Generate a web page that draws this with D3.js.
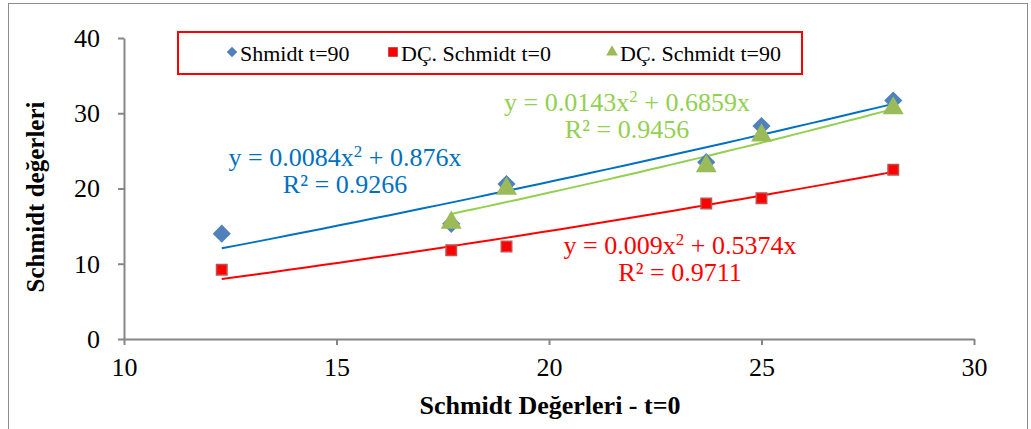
<!DOCTYPE html>
<html>
<head>
<meta charset="utf-8">
<script src="https://cdn.jsdelivr.net/npm/d3@7"></script>
<style>
  body { margin: 0; background: #fff; }
  svg { display: block; }
  svg text { font-family: "Liberation Serif", "Times New Roman", serif; }
</style>
</head>
<body>
<div id="chart"></div>
<script>
// values
var xValues = [12.3, 17.7, 19.0, 23.7, 25.0, 28.1];
var shmidt90 = [14.0, 15.3, 20.6, 23.5, 28.3, 31.7];
var dcSchmidt0 = [9.2, 11.8, 12.3, 18.0, 18.7, 22.5];
var dcXValues = [17.7, 19.0, 23.7, 25.0, 28.1];
var dcSchmidt90 = [15.2, 19.7, 22.7, 26.8, 30.4];

var xTicks = [10, 15, 20, 25, 30];
var yTicks = [0, 10, 20, 30, 40];

// trendline coefficients (y = a*x^2 + b*x) as printed on the chart
var trendShmidt90 = { a: 0.0084, b: 0.876, r2: "0.9266" };
var trendDc0 = { a: 0.009, b: 0.5374, r2: "0.9711" };
var trendDc90 = { a: 0.0143, b: 0.6859, r2: "0.9456" };

var legendNames = ["Shmidt t=90", "DÇ. Schmidt t=0", "DÇ. Schmidt t=90"];

window.onload = function() {
	drawChart();
};

function drawChart() {
	var width = 1031,
		height = 429;

	var svg = d3.select("#chart").append("svg")
		.attr("width", width)
		.attr("height", height);

	// outer chart frame
	svg.append("rect")
		.attr("x", 8.5).attr("y", 3.5)
		.attr("width", 1019).attr("height", 440)
		.attr("fill", "none")
		.attr("stroke", "#8c8c8c")
		.attr("stroke-width", 1);

	var x = d3.scaleLinear().domain([10, 30]).range([124, 974]);
	var y = d3.scaleLinear().domain([0, 40]).range([339, 38]);

	var axisColor = "#868686";

	var xAxis = svg.append("g")
		.attr("transform", "translate(0," + y(0) + ")")
		.call(d3.axisBottom(x).tickValues(xTicks).tickSize(6).tickPadding(13).tickSizeOuter(0));
	var yAxis = svg.append("g")
		.attr("transform", "translate(" + x(10) + ",0)")
		.call(d3.axisLeft(y).tickValues(yTicks).tickSize(6).tickPadding(18).tickSizeOuter(0));

	[xAxis, yAxis].forEach(function(g) {
		g.attr("font-family", "Liberation Serif").attr("font-size", 26);
		g.select(".domain").attr("stroke", axisColor).attr("stroke-width", 2);
		g.selectAll(".tick line").attr("stroke", axisColor).attr("stroke-width", 2);
		g.selectAll(".tick text").attr("fill", "#000");
	});

	// axis titles
	svg.append("text")
		.attr("x", 550).attr("y", 414)
		.attr("text-anchor", "middle")
		.style("font-weight", "bold")
		.style("font-size", "26px")
		.text("Schmidt Değerleri - t=0");

	svg.append("text")
		.attr("transform", "translate(44,197) rotate(-90)")
		.attr("text-anchor", "middle")
		.style("font-weight", "bold")
		.style("font-size", "25px")
		.text("Schmidt değerleri");

	// trendlines
	var line = d3.line()
		.x(function(d) { return x(d[0]); })
		.y(function(d) { return y(d[1]); });

	function trend(coef, xs, color) {
		var lo = d3.min(xs), hi = d3.max(xs);
		var pts = d3.range(0, 41).map(function(i) {
			var xv = lo + (hi - lo) * i / 40;
			return [xv, coef.a * xv * xv + coef.b * xv];
		});
		svg.append("path")
			.attr("d", line(pts))
			.attr("fill", "none")
			.attr("stroke", color)
			.attr("stroke-width", 2);
	}

	trend(trendShmidt90, xValues, "#0070C0");
	trend(trendDc0, xValues, "#FF0000");
	trend(trendDc90, dcXValues, "#92D050");

	// markers
	var diamond = d3.symbol().type(d3.symbolDiamond2).size(210);
	var square = d3.symbol().type(d3.symbolSquare).size(110);
	var triangle = d3.symbol().type(d3.symbolTriangle).size(190);

	svg.append("g").selectAll("path")
		.data(xValues.map(function(v, i) { return [v, shmidt90[i]]; }))
		.enter().append("path")
		.attr("d", diamond)
		.attr("transform", function(d) { return "translate(" + x(d[0]) + "," + y(d[1]) + ")"; })
		.attr("fill", "#4F81BD");

	svg.append("g").selectAll("path")
		.data(xValues.map(function(v, i) { return [v, dcSchmidt0[i]]; }))
		.enter().append("path")
		.attr("d", square)
		.attr("transform", function(d) { return "translate(" + x(d[0]) + "," + y(d[1]) + ")"; })
		.attr("fill", "#FF0000")
		.attr("stroke", "#C0504D")
		.attr("stroke-width", 1.5);

	svg.append("g").selectAll("path")
		.data(dcXValues.map(function(v, i) { return [v, dcSchmidt90[i]]; }))
		.enter().append("path")
		.attr("d", triangle)
		.attr("transform", function(d) { return "translate(" + x(d[0]) + "," + (y(d[1]) - 2) + ")"; })
		.attr("fill", "#9BBB59");

	// equations
	function equation(coef, cx, cy, color) {
		var t = svg.append("text")
			.attr("x", cx).attr("y", cy)
			.attr("text-anchor", "middle")
			.attr("fill", color)
			.style("font-size", "26px");
		t.append("tspan").text("y = " + coef.a + "x");
		t.append("tspan").attr("dy", -9).style("font-size", "17px").text("2");
		t.append("tspan").attr("dy", 9).text(" + " + coef.b + "x");
		svg.append("text")
			.attr("x", cx).attr("y", cy + 27)
			.attr("text-anchor", "middle")
			.attr("fill", color)
			.style("font-size", "26px")
			.text("R² = " + coef.r2);
	}

	equation(trendShmidt90, 345, 166, "#0070C0");
	equation(trendDc90, 627, 111, "#92D050");
	equation(trendDc0, 680, 254, "#FF0000");

	// legend
	svg.append("rect")
		.attr("x", 178).attr("y", 32)
		.attr("width", 624).attr("height", 42)
		.attr("fill", "#fff")
		.attr("stroke", "#FF0000")
		.attr("stroke-width", 2);

	var legendX = [232, 393, 612];
	var legendSymbols = [
		{ sym: d3.symbol().type(d3.symbolDiamond2).size(70), fill: "#4F81BD", stroke: "none" },
		{ sym: d3.symbol().type(d3.symbolSquare).size(80), fill: "#FF0000", stroke: "#C0504D" },
		{ sym: d3.symbol().type(d3.symbolTriangle).size(60), fill: "#9BBB59", stroke: "none" }
	];

	legendNames.forEach(function(name, i) {
		svg.append("path")
			.attr("d", legendSymbols[i].sym)
			.attr("transform", "translate(" + legendX[i] + ",52)")
			.attr("fill", legendSymbols[i].fill)
			.attr("stroke", legendSymbols[i].stroke);
		svg.append("text")
			.attr("x", legendX[i] + 8).attr("y", 61)
			.style("font-size", "22px")
			.text(name);
	});
}
</script>
</body>
</html>
